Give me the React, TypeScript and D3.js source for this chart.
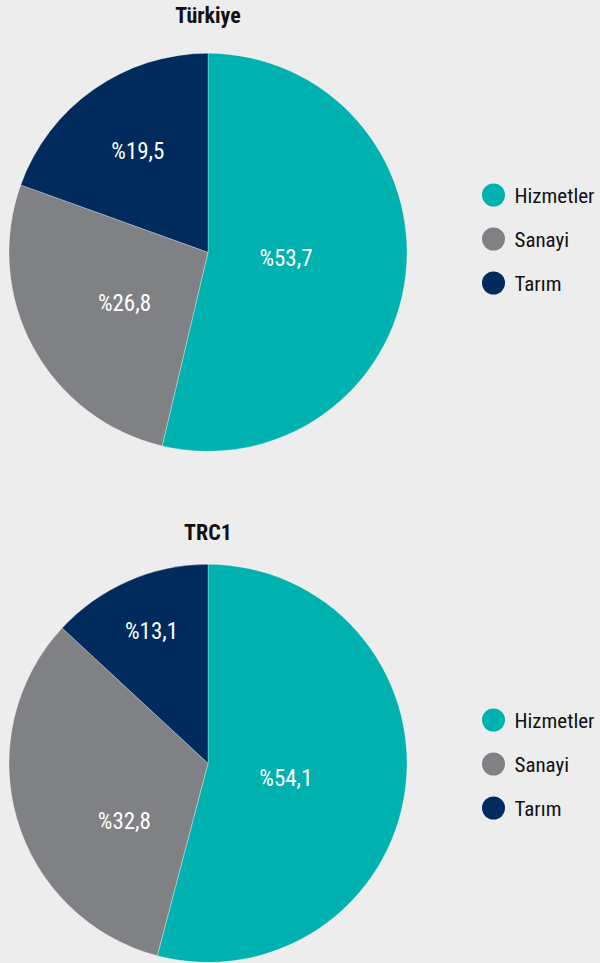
import React from "react";
import * as d3 from "d3";

const categories = ["Hizmetler", "Sanayi", "Tarım"];
const colors = ["#00b2af", "#808184", "#002b5c"];
const titles = ["Türkiye", "TRC1"];
const turkiyeValues = [53.7, 26.8, 19.5];
const trc1Values = [54.1, 32.8, 13.1];
// label placement (angle in degrees clockwise from top, radius as fraction of pie radius)
const labelAngles = [
  [93.7, 239.1, 325.5],
  [100.2, 235.3, 337.0],
];
const labelRadii = [
  [0.393, 0.489, 0.622],
  [0.398, 0.511, 0.726],
];

const W = 600;
const H = 963;
const font = "'Roboto Condensed', 'Liberation Sans Narrow', Roboto, sans-serif";

function Pie({
  title,
  values,
  cy,
  titleOffset,
  legendTop,
  angles,
  radii,
}: {
  title: string;
  values: number[];
  cy: number;
  titleOffset: number;
  legendTop: number;
  angles: number[];
  radii: number[];
}) {
  const cx = 208;
  const r = 199;
  const pie = d3.pie<number>().sort(null).value((d) => d);
  const arcs = pie(values);
  const arcGen = d3.arc<d3.PieArcDatum<number>>().innerRadius(0).outerRadius(r);
  const fmt = (v: number) => "%" + v.toFixed(1).replace(".", ",");
  const legendY = d3.scalePoint<string>().domain(categories).range([legendTop, legendTop + 88]);
  return (
    <g>
      <text x={cx} y={cy + titleOffset} textAnchor="middle" fontFamily={font} fontWeight="bold" fontSize={22} fill="#111">
        {title}
      </text>
      <g transform={`translate(${cx},${cy})`}>
        {arcs.map((a, i) => (
          <path key={i} d={arcGen(a) || ""} fill={colors[i]} stroke="#ffffff" strokeWidth={0.5} strokeOpacity={0.6} />
        ))}
        {arcs.map((a, i) => {
          const th = (angles[i] * Math.PI) / 180;
          const lr = r * radii[i];
          const x = Math.sin(th) * lr;
          const y = -Math.cos(th) * lr;
          return (
            <text key={i} x={x} y={y} dy="0.36em" textAnchor="middle" fontFamily={font} fontWeight={400} fontSize={23} fill="#ffffff">
              {fmt(values[i])}
            </text>
          );
        })}
      </g>
      {categories.map((c, i) => (
        <g key={c} transform={`translate(493.5,${legendY(c)})`}>
          <circle r={11.5} fill={colors[i]} />
          <text x={21} dy="0.36em" fontFamily={font} fontSize={21} fill="#111">
            {c}
          </text>
        </g>
      ))}
    </g>
  );
}

export default function App() {
  return (
    <svg width={W} height={H} style={{ position: "absolute", top: 0, left: 0, background: "#ededed" }}>
      <rect width={W} height={H} fill="#ededed" />
      <Pie title={titles[0]} values={turkiyeValues} cy={252.3} titleOffset={-229} legendTop={195} angles={labelAngles[0]} radii={labelRadii[0]} />
      <Pie title={titles[1]} values={trc1Values} cy={763.3} titleOffset={-223} legendTop={720} angles={labelAngles[1]} radii={labelRadii[1]} />
    </svg>
  );
}
